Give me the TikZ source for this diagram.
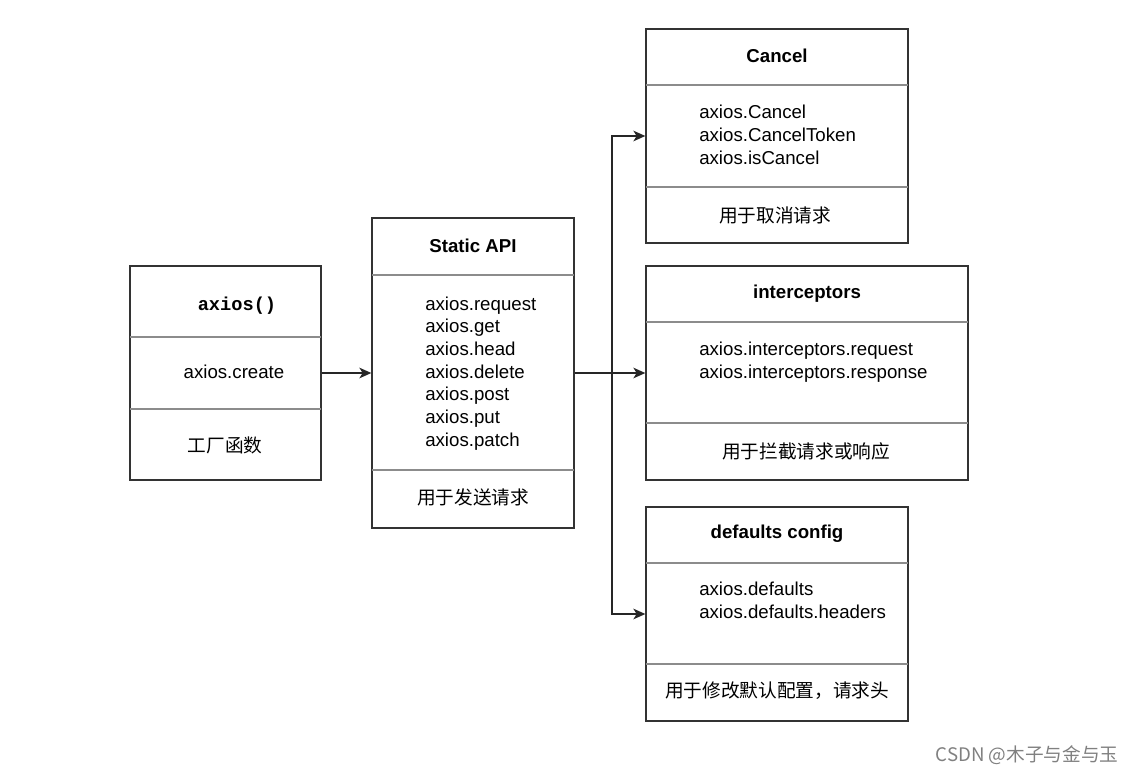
\documentclass[tikz,border=0pt]{standalone}
\usepackage{fontspec}
\setmainfont{Liberation Sans}
\newfontfamily\cjk{Noto Sans CJK SC}
\newfontfamily\monob{Liberation Mono}
\usetikzlibrary{arrows.meta}
\tikzset{
  box/.style={draw=black!80, line width=1pt, inner sep=0pt},
  sep/.style={draw=black!45, line width=0.9pt},
  head/.style={font=\fontsize{14}{17}\selectfont\bfseries},
  body/.style={font=\fontsize{14}{17}\selectfont, align=left, anchor=base west, inner sep=0pt},
  note/.style={font=\fontsize{14}{17}\selectfont\cjk},
  link/.style={line width=1pt, draw=black!85, -{Stealth[length=9pt,width=8pt,inset=2.5pt]}}
}
\begin{document}
\begin{tikzpicture}[x=0.75pt,y=-0.75pt]
  \useasboundingbox (0,0) rectangle (1138,774);
  % boxes
  \node[box, minimum width={191*0.75pt}, minimum height={214*0.75pt}] (factory) at (225.5,373) {};
  \node[box, minimum width={202*0.75pt}, minimum height={310*0.75pt}] (static) at (473,373) {};
  \node[box, minimum width={262*0.75pt}, minimum height={214*0.75pt}] (cancel) at (777,136) {};
  \node[box, minimum width={322*0.75pt}, minimum height={214*0.75pt}] (hooks) at (807,373) {};
  \node[box, minimum width={262*0.75pt}, minimum height={214*0.75pt}] (defaults) at (777,614) {};
  % dividers
  \draw[sep] (130,337) -- (321,337) (130,409) -- (321,409);
  \draw[sep] (372,275) -- (574,275) (372,470) -- (574,470);
  \draw[sep] (646,85) -- (908,85) (646,187) -- (908,187);
  \draw[sep] (646,322) -- (968,322) (646,423) -- (968,423);
  \draw[sep] (646,563) -- (908,563) (646,664) -- (908,664);
  % texts (lists are placed by the baseline of their last line)
  \node[font=\fontsize{14}{17}\selectfont\monob\bfseries] (ctor) at (237,306) {axios()};
  \node[font=\fontsize{14}{17}\selectfont] (create) at (234,372) {axios.create};
  \node[note] (factorynote) at (225,445) {工厂函数};

  \node[head] (statichead) at (473,246) {Static API};
  \node[body] (staticlist) at (425,446) {axios.request\\axios.get\\axios.head\\axios.delete\\axios.post\\axios.put\\axios.patch};
  \node[note] (staticnote) at (473,497) {用于发送请求};

  \node[head] (cancelhead) at (777,56) {Cancel};
  \node[body] (cancellist) at (699,164) {axios.Cancel\\axios.CancelToken\\axios.isCancel};
  \node[note] (cancelnote) at (775,215) {用于取消请求};

  \node[head] (hookshead) at (807,294) {interceptors};
  \node[body] (hookslist) at (699,378.5) {axios.interceptors.request\\axios.interceptors.response};
  \node[note] (hooksnote) at (806,451) {用于拦截请求或响应};

  \node[head] (defaultshead) at (777,534) {defaults config};
  \node[body] (defaultslist) at (699,618.5) {axios.defaults\\axios.defaults.headers};
  \node[note] (defaultsnote) at (777,691) {用于修改默认配置，请求头};

  \node[font=\fontsize{14}{16}\selectfont\cjk, text=black!50] (credit) at (1027,755) {CSDN @木子与金与玉};
  % connectors
  \coordinate (split) at (612,373);
  \begin{scope}[link]
    \draw (factory.east) -- (static.west);
    \draw (static.east) -- (hooks.west);
    \draw (split) |- (cancel.west);
    \draw (split) |- (defaults.west);
  \end{scope}
\end{tikzpicture}
\end{document}
